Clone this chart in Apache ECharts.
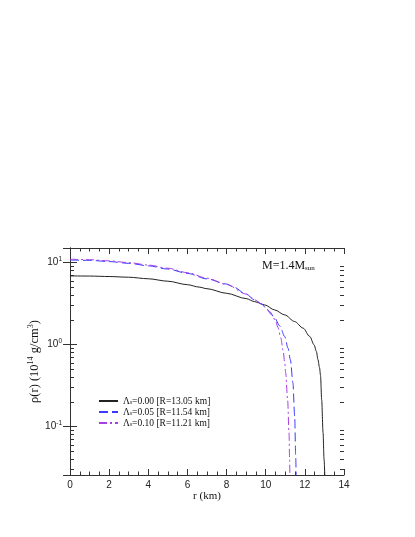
<!DOCTYPE html>
<html>
<head>
<meta charset="utf-8">
<script src="https://cdn.jsdelivr.net/npm/echarts@6/dist/echarts.min.js"></script>
<style>html,body{margin:0;padding:0;background:#fff;}#c{width:415px;height:537px;}</style>
</head>
<body>
<div id="c"></div>
<script>
// ---- data ----
var seriesNames = ['L000', 'L005', 'L010'];
var legendLabels = ['0.00 [R=13.05 km]', '0.05 [R=11.54 km]', '0.10 [R=11.21 km]'];

var rL000 = [0, 1, 2, 3, 4, 5, 6, 6.6, 7, 8, 9, 9.44, 9.95, 10.46, 10.97, 11.48, 11.91, 12.25, 12.47, 12.59, 12.67, 12.75, 12.8, 12.86, 12.93, 12.98, 13.03];
var rhoL000 = [6.85, 6.82, 6.73, 6.6, 6.32, 5.9, 5.35, 5.0, 4.78, 4.2, 3.62, 3.32, 3.03, 2.63, 2.29, 1.9, 1.58, 1.25, 0.99, 0.82, 0.65, 0.52, 0.42, 0.21, 0.084, 0.04, 0.02];

var rL005 = [0, 1, 2, 3, 4, 5, 6, 7, 8, 8.33, 9, 9.44, 9.8, 9.95, 10.2, 10.46, 10.72, 10.97, 11.14, 11.26, 11.39, 11.48, 11.53, 11.56];
var rhoL005 = [10.7, 10.6, 10.25, 9.75, 9.1, 8.3, 7.35, 6.3, 5.45, 5.06, 4.1, 3.48, 3.12, 2.88, 2.51, 2.09, 1.68, 1.25, 0.9, 0.65, 0.34, 0.133, 0.045, 0.02];

var rL010 = [0, 1, 2, 3, 4, 5, 6, 7, 8, 9, 9.44, 9.8, 10.0, 10.3, 10.5, 10.63, 10.77, 10.89, 10.97, 11.02, 11.12, 11.19, 11.22, 11.24];
var rhoL010 = [10.95, 10.8, 10.45, 9.95, 9.3, 8.5, 7.5, 6.42, 5.38, 4.12, 3.5, 3.1, 2.8, 2.3, 1.95, 1.6, 1.2, 0.84, 0.6, 0.45, 0.212, 0.084, 0.04, 0.02];

var xTicks = [0, 14, 2];          // min, max, interval
var yRange = [0.0255, 15];
var yMinorTicks = [0.03, 0.04, 0.05, 0.06, 0.07, 0.08, 0.09, 0.2, 0.3, 0.4, 0.5, 0.6, 0.7, 0.8, 0.9, 2, 3, 4, 5, 6, 7, 8, 9];

// ---- chart ----
function pairs(xs, ys) { return xs.map(function (x, i) { return [x, ys[i]]; }); }

var serif = 'Liberation Serif';
var sans = 'Liberation Sans';
var axisColor = '#333';

var chart = echarts.init(document.getElementById('c'), null, { renderer: 'canvas' });

function lineSeries(idx, xs, ys, color, dash) {
  return {
    name: seriesNames[idx], type: 'line', xAxisIndex: 0, yAxisIndex: 0,
    data: pairs(xs, ys), showSymbol: false, symbol: 'none',
    smooth: 0.3, smoothMonotone: 'x', clip: true,
    lineStyle: { color: color, width: 1, type: dash },
    itemStyle: { color: color }
  };
}

var option = {
  backgroundColor: '#fff',
  animation: false,
  grid: { left: 70, top: 248, width: 274, height: 227, containLabel: false },
  title: {
    text: 'M=1.4M{sub|sun}',
    left: 262, top: 260, padding: 0,
    textStyle: {
      fontFamily: serif, fontSize: 12, fontWeight: 'normal', color: '#111',
      rich: { sub: { fontFamily: serif, fontSize: 7, verticalAlign: 'bottom', lineHeight: 10, padding: [6, 0, 0, 0] } }
    }
  },
  legend: {
    data: seriesNames,
    orient: 'vertical',
    left: 98, top: 396, padding: 0,
    itemWidth: 19, itemHeight: 10, itemGap: 1,
    itemStyle: { opacity: 0 },
    formatter: function (name) { return 'Λ{sub|s}=' + legendLabels[seriesNames.indexOf(name)]; },
    textStyle: {
      fontFamily: serif, fontSize: 9.5, color: '#111', lineHeight: 10,
      rich: { sub: { fontFamily: serif, fontSize: 5.5, verticalAlign: 'bottom', lineHeight: 6 } }
    }
  },
  xAxis: [{
    type: 'value', min: xTicks[0], max: xTicks[1], interval: xTicks[2],
    position: 'bottom',
    name: 'r (km)', nameLocation: 'middle', nameGap: 16, nameMoveOverlap: false,
    nameTextStyle: { fontFamily: serif, fontSize: 11, color: '#111' },
    axisLine: { show: true, lineStyle: { color: axisColor, width: 1 } },
    axisTick: { show: true, inside: true, length: 6, lineStyle: { color: axisColor } },
    minorTick: { show: true, splitNumber: 4, length: 3.5, lineStyle: { color: axisColor } },
    axisLabel: { fontFamily: sans, fontSize: 10, color: '#222', margin: 5 },
    splitLine: { show: false }
  }, {
    type: 'value', min: xTicks[0], max: xTicks[1], interval: xTicks[2],
    position: 'top',
    axisLine: { show: true, lineStyle: { color: axisColor, width: 1 } },
    axisTick: { show: true, inside: true, length: 6, lineStyle: { color: axisColor } },
    minorTick: { show: true, splitNumber: 4, length: 3.5, lineStyle: { color: axisColor } },
    axisLabel: { show: false },
    splitLine: { show: false }
  }],
  yAxis: [{
    type: 'log', logBase: 10, min: yRange[0], max: yRange[1],
    position: 'left',
    name: 'ρ(r) (10{sup|14} g/cm{sup|3})', nameLocation: 'middle', nameGap: 28, nameRotate: 90,
    nameMoveOverlap: false,
    nameTextStyle: {
      fontFamily: serif, fontSize: 12.5, color: '#111', lineHeight: 15,
      rich: { sup: { fontFamily: serif, fontSize: 8, verticalAlign: 'top', lineHeight: 9 } }
    },
    axisLine: { show: true, lineStyle: { color: axisColor, width: 1 } },
    axisTick: { show: true, inside: true, length: 7, lineStyle: { color: axisColor } },
    axisLabel: {
      fontFamily: sans, fontSize: 10, color: '#222', margin: 8,
      showMinLabel: false, showMaxLabel: false,
      formatter: function (v) { return '10{sup|' + Math.round(Math.log10(v)) + '}'; },
      lineHeight: 14,
      rich: { sup: { fontFamily: sans, fontSize: 6.5, verticalAlign: 'top', lineHeight: 8 } }
    },
    splitLine: { show: false }
  }, {
    type: 'log', logBase: 10, min: yRange[0], max: yRange[1],
    position: 'right',
    axisLine: { show: true, lineStyle: { color: axisColor, width: 1 } },
    axisTick: { show: true, inside: true, length: 7, lineStyle: { color: axisColor } },
    axisLabel: { show: false },
    splitLine: { show: false }
  }],
  series: [
    lineSeries(0, rL000, rhoL000, '#222', 'solid'),
    lineSeries(1, rL005, rhoL005, '#3a3aff', [9, 4]),
    lineSeries(2, rL010, rhoL010, '#a63ee6', [8, 3, 2, 3]),
    {
      name: 'minorTicks', type: 'custom', xAxisIndex: 0, yAxisIndex: 0,
      silent: true, clip: false,
      data: yMinorTicks.map(function (v) { return [xTicks[0], v]; }),
      renderItem: function (params, api) {
        var l = api.coord([xTicks[0], api.value(1)]);
        var r = api.coord([xTicks[1], api.value(1)]);
        var y = Math.round(l[1]) + 0.5;
        var st = { stroke: axisColor, lineWidth: 1 };
        return {
          type: 'group',
          children: [
            { type: 'line', shape: { x1: l[0], y1: y, x2: l[0] + 4, y2: y }, style: st },
            { type: 'line', shape: { x1: r[0] - 4, y1: y, x2: r[0], y2: y }, style: st }
          ]
        };
      }
    }
  ]
};
chart.setOption(option);
</script>
</body>
</html>
